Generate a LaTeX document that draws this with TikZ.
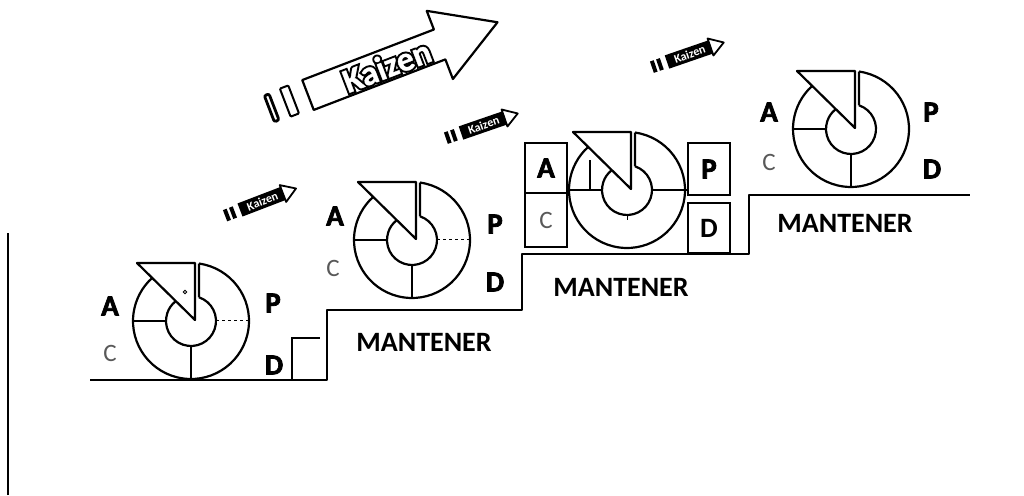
\documentclass[tikz,border=0pt]{standalone}
\usepackage{fontspec}
\setmainfont{Carlito}
\newfontfamily\heavy[FakeBold=2.5]{Carlito Bold}
\newfontfamily\kzout[FakeBold=13]{Carlito Bold}
\newfontfamily\kzin[FakeBold=1]{Carlito Bold}
\usetikzlibrary{calc}
\begin{document}
\begin{tikzpicture}[x=1pt,y=1pt,
  ln/.style={line width=2.2pt, line join=round},
  thin ln/.style={line width=1pt, dashed},
  lbl/.style={font=\heavy\fontsize{29}{29}\selectfont, inner sep=0pt},
  clbl/.style={font=\fontsize{25}{25}\selectfont, text=black!65, inner sep=0pt},
  mant/.style={font=\bfseries\fontsize{28}{28}\selectfont, inner sep=0pt},
  boxl/.style={draw, line width=1.8pt, inner sep=0pt},
  pdca/.pic={
    \draw[ln] (82.1:58) arc[start angle=82.1, end angle=-227.8, radius=58];
    \draw[ln] (71.3:25) arc[start angle=71.3, end angle=-231.5, radius=25];
    \draw[ln] (82.1:58) -- (71.3:25);
    \draw[ln] (180:25) -- (180:58);
    \draw[ln] (-54,58) -- (4,58) -- (4,1) -- cycle;
  },
  smallkz/.pic={
    \fill (-16,-6) rectangle (-12,6);
    \fill (-9.5,-6) rectangle (-5.5,6);
    \fill (0,-7) -- (46,-7) -- (46,7) -- (0,7) -- cycle;
    \draw[line width=1.8pt, fill=white, line join=round] (46,-9) -- (60,0) -- (46,9) -- cycle;
    \node[transform shape, text=white, font=\bfseries\fontsize{12}{12}\selectfont, inner sep=0pt] at (24,0) {Kaizen};
  }
]
\useasboundingbox (0,0) rectangle (1024,495);

% left border line
\draw[line width=2pt] (8,0) -- (8,262);

% staircase
\draw[ln, line width=2pt] (90,115) -- (327,115) -- (327,185) -- (522,185) -- (522,241) -- (749,241) -- (749,300) -- (970,300);
\draw[line width=1.6pt] (292,115) -- (292,157) -- (320,157);

% PDCA 1
\pic at (191,174) {pdca};
\draw[ln] (191,174) ++(270:25) -- ++(0,-33);
\draw[thin ln] (191,174) ++(0:25) -- ++(33,0);
\draw[line width=0.8pt] (185,203) circle (1.8);
\node[lbl] (a1) at (110,189) {A};
\node[lbl] (p1) at (273,192) {P};
\node[clbl] (c1) at (110,142) {C};
\node[lbl] (d1) at (274,130) {D};

% PDCA 2
\pic at (412,255) {pdca};
\draw[ln] (412,255) ++(270:25) -- ++(0,-33);
\draw[thin ln] (412,255) ++(0:25) -- ++(33,0);
\node[lbl] (a2) at (335,279) {A};
\node[lbl] (p2) at (495,271) {P};
\node[clbl] (c2) at (333,227) {C};
\node[lbl] (d2) at (495,213) {D};
\node[mant] (m1) at (424,153) {MANTENER};

% PDCA 3 with boxes
\node[boxl, minimum width=42pt, minimum height=50pt] (ba) at (546,327) {};
\node[boxl, minimum width=42pt, minimum height=54pt] (bc) at (546,275) {};
\node[boxl, minimum width=42pt, minimum height=52pt] (bp) at (709,326) {};
\node[boxl, minimum width=42pt, minimum height=50pt] (bd) at (709,267) {};
\pic at (627,305) {pdca};
\draw[line width=1.6pt] (627,305) ++(0:25) -- ++(35,0);
\draw[line width=1pt] (627,280) -- (627,275);
\draw[line width=1.4pt] (590,305) -- (590,335);
\node[lbl] (a3) at (ba) {A};
\node[clbl] (c3) at (bc) {C};
\node[lbl] (p3) at (bp) {P};
\node[lbl, font=\bfseries\fontsize{28}{28}\selectfont] (d3) at (bd) {D};
\node[mant] (m2) at (621,208) {MANTENER};

% PDCA 4
\pic at (851,366) {pdca};
\draw[ln] (851,366) ++(270:25) -- ++(0,-33);
\node[lbl] (a4) at (769,383) {A};
\node[lbl] (p4) at (931,383) {P};
\node[clbl] (c4) at (769,333) {C};
\node[lbl] (d4) at (932,326) {D};
\node[mant] (m3) at (845,272) {MANTENER};

% big Kaizen arrow
\begin{scope}[shift={(308,400)}, rotate=21]
  \draw[ln, fill=white] (0,-16) -- (141,-16) -- (141,-37) -- (203,0) -- (141,36) -- (141,16) -- (0,16) -- cycle;
  \draw[line width=2.8pt, rounded corners=2pt, fill=white] (-41,-13) rectangle (-36,15);
  \draw[line width=2pt, rounded corners=1pt, fill=white] (-24,-14) rectangle (-15,16);
  \begin{scope}[transform shape]
    \node[font=\kzout\fontsize{34}{34}\selectfont, text=black, inner sep=0pt] (kzo) at (84,-1) {Kaizen};
    \node[font=\kzin\fontsize{34}{34}\selectfont, text=white, inner sep=0pt] (kz) at (84,-1) {Kaizen};
  \end{scope}
\end{scope}

% small Kaizen arrows
\pic[rotate=21] at (240,285) {smallkz};
\pic[rotate=19] at (461,362) {smallkz};
\pic[rotate=19] at (667,433) {smallkz};
\end{tikzpicture}
\end{document}
